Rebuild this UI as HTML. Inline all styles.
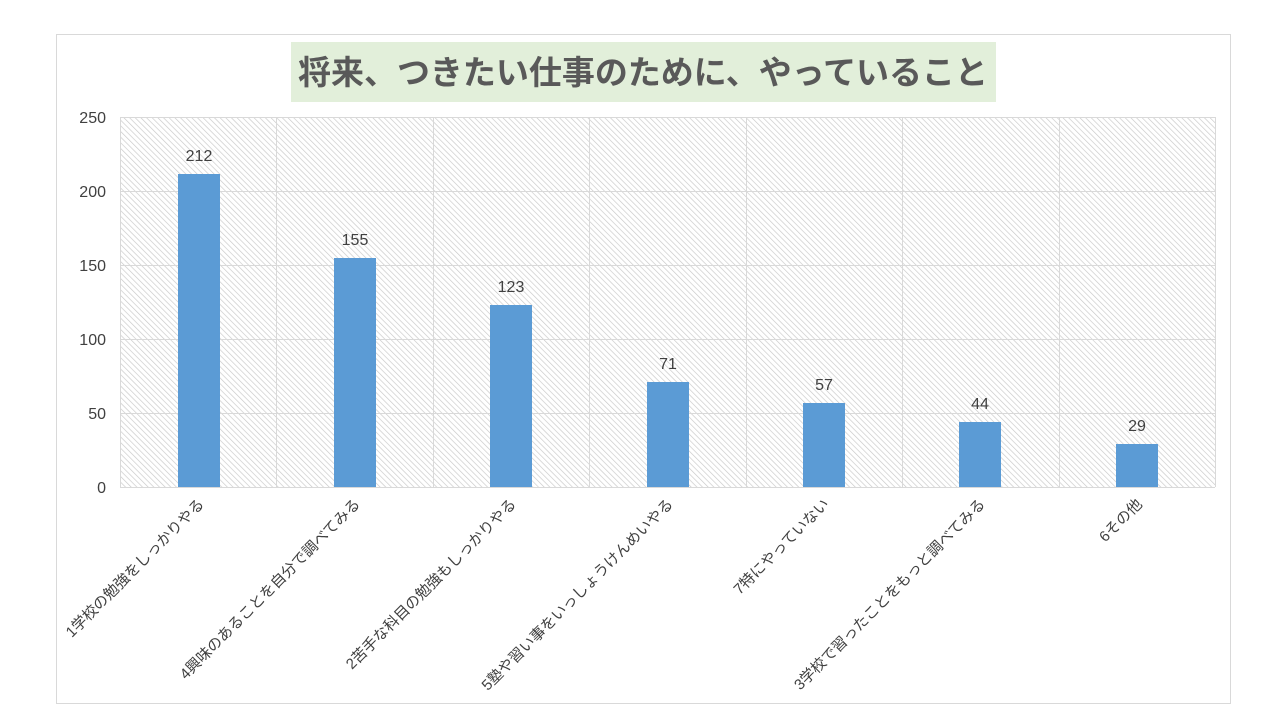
<!DOCTYPE html>
<html><head><meta charset="utf-8"><style>
body{margin:0;background:#fff;width:1280px;height:720px;overflow:hidden}
text{font-family:"Liberation Sans","Noto Sans CJK JP",sans-serif}
</style></head><body>
<svg width="1280" height="720" xmlns="http://www.w3.org/2000/svg">
<defs>
<pattern id="h" width="4" height="4" patternUnits="userSpaceOnUse" patternTransform="rotate(-45)">
<rect width="4" height="4" fill="#fff"/><line x1="0" y1="0" x2="0" y2="4" stroke="#c8c8c8" stroke-width="1.3"/>
</pattern>
</defs>
<rect x="56.5" y="34.5" width="1174" height="669" fill="#fff" stroke="#d9d9d9"/>
<rect x="291" y="42" width="705" height="60" fill="#e2efda"/>
<text x="643" y="84" font-size="33" font-weight="bold" fill="#595959" text-anchor="middle" textLength="690" lengthAdjust="spacingAndGlyphs">将来、つきたい仕事のために、やっていること</text>
<rect x="120" y="117" width="1095" height="370" fill="url(#h)"/>
<g stroke="#d9d9d9" stroke-width="1">
<line x1="120" y1="117.5" x2="1215" y2="117.5"/><line x1="120" y1="191.5" x2="1215" y2="191.5"/>
<line x1="120" y1="265.5" x2="1215" y2="265.5"/><line x1="120" y1="339.5" x2="1215" y2="339.5"/>
<line x1="120" y1="413.5" x2="1215" y2="413.5"/><line x1="120" y1="487.5" x2="1215" y2="487.5"/>
<line x1="120.5" y1="117" x2="120.5" y2="487"/><line x1="276.5" y1="117" x2="276.5" y2="487"/>
<line x1="433.5" y1="117" x2="433.5" y2="487"/><line x1="589.5" y1="117" x2="589.5" y2="487"/>
<line x1="746.5" y1="117" x2="746.5" y2="487"/><line x1="902.5" y1="117" x2="902.5" y2="487"/>
<line x1="1059.5" y1="117" x2="1059.5" y2="487"/><line x1="1215.5" y1="117" x2="1215.5" y2="487"/>
</g>
<g font-size="16" fill="#404040" text-anchor="end">
<text x="106" y="123">250</text><text x="106" y="197">200</text><text x="106" y="271">150</text>
<text x="106" y="345">100</text><text x="106" y="419">50</text><text x="106" y="493">0</text>
</g>
<g fill="#5b9bd5">
<rect x="178" y="174" width="42" height="313"/>
<rect x="334" y="258" width="42" height="229"/>
<rect x="490" y="305" width="42" height="182"/>
<rect x="647" y="382" width="42" height="105"/>
<rect x="803" y="403" width="42" height="84"/>
<rect x="959" y="422" width="42" height="65"/>
<rect x="1116" y="444" width="42" height="43"/>
</g>
<g font-size="16" fill="#404040" text-anchor="middle">
<text x="199" y="161">212</text><text x="355" y="245">155</text><text x="511" y="292">123</text>
<text x="668" y="369">71</text><text x="824" y="390">57</text><text x="980" y="409">44</text><text x="1137" y="431">29</text>
</g>
<g font-size="15" fill="#404040" text-anchor="end">
<text transform="translate(205,505) rotate(-45)">1学校の勉強をしっかりやる</text>
<text transform="translate(361,505) rotate(-45)">4興味のあることを自分で調べてみる</text>
<text transform="translate(517,505) rotate(-45)">2苦手な科目の勉強もしっかりやる</text>
<text transform="translate(674,505) rotate(-45)">5塾や習い事をいっしょうけんめいやる</text>
<text transform="translate(830,505) rotate(-45)">7特にやっていない</text>
<text transform="translate(986,505) rotate(-45)">3学校で習ったことをもっと調べてみる</text>
<text transform="translate(1143,505) rotate(-45)">6その他</text>
</g>
</svg>
</body></html>
